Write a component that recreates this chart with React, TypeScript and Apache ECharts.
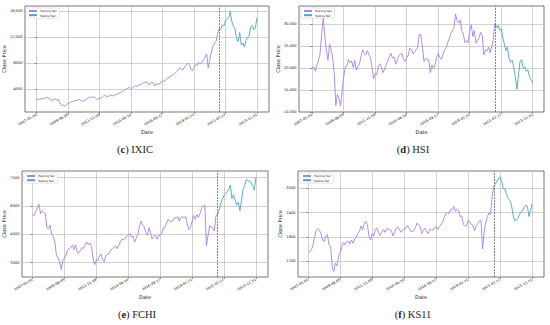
import React, { useEffect, useRef } from 'react';
import * as echarts from 'echarts';

// x axis: sample index (about 1.5 months per sample), ticks every 20 samples
const TICK_INDEX = [0, 20, 40, 60, 80, 100, 120, 140];
const TICK_LABELS = ['2007-01-01', '2009-08-05', '2011-11-09', '2014-04-14', '2016-09-17', '2019-02-21', '2021-07-27', '2023-12-31'];
const SPLIT_INDEX = 116;

const IXIC_TRAIN = [
  2430, 2480, 2420, 2530, 2610, 2560, 2720, 2750, 2640, 2350,
  2280, 2420, 2480, 2300, 2380, 1750, 1530, 1560, 1380, 1650,
  1780, 1880, 2050, 2090, 2200, 2260, 2270, 2450, 2250, 2160,
  2190, 2380, 2540, 2680, 2780, 2760, 2840, 2720, 2500, 2420,
  2650, 2600, 2870, 3060, 2950, 2850, 2960, 3110, 2980, 3000,
  3150, 3250, 3300, 3450, 3600, 3730, 3920, 4060, 4150, 4300,
  4080, 4250, 4440, 4520, 4400, 4700, 4650, 4900, 4980, 5050,
  5100, 4780, 4700, 5100, 5000, 4500, 4800, 4780, 4790, 5150,
  5280, 5200, 5400, 5600, 5850, 5950, 6100, 6300, 6450, 6700,
  6950, 7300, 7100, 7000, 7400, 7700, 8000, 7800, 7100, 6800,
  7400, 7800, 7650, 8150, 7900, 8050, 8500, 8950, 9400, 7300,
  8600, 9700, 10600, 11100, 11300, 12600, 13300,
];
const IXIC_TEST = [
  13300, 13200, 13900, 13700, 14500, 14800, 15000, 15900, 14400, 13600,
  13200, 11800, 11300, 12700, 10800, 11100, 10500, 11500, 12000, 12200,
  13600, 13800, 13100, 13500, 15000,
];
const IXIC_Y_TICKS = [4000, 8000, 12000, 16000];

const HSI_TRAIN = [
  20000, 20300, 19300, 20700, 21900, 23300, 28000, 31400, 27300, 24000,
  21800, 25500, 24300, 22300, 18800, 11500, 14000, 13100, 11400, 14900,
  18000, 20300, 20500, 22000, 21200, 21700, 20200, 21800, 19600, 20400,
  20900, 22700, 24200, 23300, 23000, 24000, 23100, 22300, 20200, 17600,
  18900, 18500, 20500, 21000, 20200, 19000, 19800, 20800, 21700, 22600,
  23400, 22300, 22600, 20900, 21800, 22900, 23200, 23300, 22000, 21500,
  22400, 23000, 24600, 24300, 23300, 23800, 24200, 24800, 27800, 27600,
  24900, 21500, 22200, 22000, 21900, 19000, 20700, 19900, 20800, 22400,
  23400, 22500, 22000, 23000, 24200, 24600, 25800, 26700, 27900, 28500,
  29200, 32400, 30900, 30300, 31000, 28500, 27800, 25800, 26300, 25800,
  28600, 29900, 27200, 28600, 25700, 26300, 27000, 28200, 27400, 23000,
  24200, 23900, 24800, 23600, 24900, 26500, 30200,
];
const HSI_TEST = [
  30200, 29200, 29800, 28700, 29000, 27000, 25600, 24000, 24800, 22200,
  21400, 21800, 20200, 18000, 15200, 18400, 21500, 22000, 20000, 20300,
  19300, 19600, 18000, 17300, 16600,
];
const HSI_Y_TICKS = [10000, 15000, 20000, 25000, 30000];

const FCHI_TRAIN = [
  5550, 5500, 5700, 5900, 6100, 5600, 5750, 5650, 5600, 4850,
  4800, 5000, 4500, 4400, 4100, 3400, 3250, 3050, 2650, 3100,
  3250, 3400, 3700, 3750, 3800, 3950, 3700, 3950, 3550, 3500,
  3650, 3800, 3750, 3950, 4100, 3950, 4050, 3850, 3200, 2900,
  3150, 3100, 3400, 3450, 3150, 3050, 3400, 3450, 3500, 3650,
  3750, 3800, 3900, 3750, 3900, 4100, 4250, 4200, 4300, 4400,
  4450, 4550, 4350, 4400, 4100, 4300, 4500, 4900, 5200, 5000,
  4900, 4600, 4450, 4850, 4600, 4250, 4400, 4450, 4250, 4450,
  4450, 4550, 4850, 4850, 5100, 5300, 5200, 5150, 5250, 5400,
  5350, 5450, 5200, 5400, 5450, 5350, 5450, 5050, 4750, 4850,
  5200, 5500, 5300, 5550, 5400, 5600, 5900, 6000, 6050, 3900,
  4450, 4950, 4900, 4850, 4700, 5500, 5550,
];
const FCHI_TEST = [
  5550, 5800, 6150, 6350, 6550, 6650, 6750, 6900, 7100, 6400,
  6600, 6300, 6050, 6200, 5750, 6300, 6900, 7100, 7400, 7350,
  7300, 7250, 7050, 6850, 7500,
];
const FCHI_Y_TICKS = [3000, 4500, 6000, 7500];

const KS11_TRAIN = [
  1420, 1430, 1480, 1600, 1800, 1950, 2010, 1960, 1880, 1720,
  1680, 1820, 1850, 1600, 1570, 1050, 940, 1150, 1080, 1330,
  1400, 1550, 1660, 1600, 1680, 1690, 1620, 1720, 1640, 1740,
  1790, 1880, 1930, 2070, 1970, 2120, 2180, 2100, 1800, 1720,
  1880, 1820, 1990, 2020, 1900, 1830, 1920, 1980, 1910, 2000,
  1990, 1970, 1950, 1820, 1900, 2010, 2040, 1970, 1910, 1960,
  1990, 2000, 2080, 2020, 1940, 1930, 1950, 2030, 2140, 2080,
  2050, 1880, 1960, 2010, 1930, 1880, 1990, 1970, 1960, 2030,
  2040, 1980, 2060, 2090, 2160, 2280, 2370, 2400, 2380, 2480,
  2470, 2550, 2430, 2480, 2440, 2300, 2320, 2100, 2060, 2080,
  2200, 2180, 2100, 2080, 1950, 2070, 2130, 2190, 2200, 1500,
  1930, 2150, 2300, 2390, 2350, 2800, 3050,
];
const KS11_TEST = [
  3050, 3100, 3180, 3240, 3280, 3150, 2990, 2980, 2850, 2750,
  2700, 2600, 2350, 2200, 2220, 2250, 2350, 2420, 2450, 2520,
  2580, 2560, 2300, 2450, 2620,
];
const KS11_Y_TICKS = [1200, 1800, 2400, 3000];

const TRAIN_COLOR = '#a982e2';
const TEST_COLOR = '#4fa6b6';

const PANELS = [
  { letter: 'c', name: 'IXIC', train: IXIC_TRAIN, test: IXIC_TEST, yTicks: IXIC_Y_TICKS, yMin: 500, yMax: 16770,
    grid: { left: 24, top: 6, width: 245, height: 106 }, xMin: -7.4, xMax: 147.6, cap: [135, 149] },
  { letter: 'd', name: 'HSI', train: HSI_TRAIN, test: HSI_TEST, yTicks: HSI_Y_TICKS, yMin: 10000, yMax: 34200,
    grid: { left: 299, top: 6, width: 245, height: 106 }, xMin: -8.4, xMax: 147.2, cap: [413, 149] },
  { letter: 'e', name: 'FCHI', train: FCHI_TRAIN, test: FCHI_TEST, yTicks: FCHI_Y_TICKS, yMin: 2245, yMax: 7855,
    grid: { left: 22, top: 171, width: 246, height: 106 }, xMin: -6.6, xMax: 147.6, cap: [137, 314] },
  { letter: 'f', name: 'KS11', train: KS11_TRAIN, test: KS11_TEST, yTicks: KS11_Y_TICKS, yMin: 805, yMax: 3427,
    grid: { left: 298, top: 171, width: 246, height: 106 }, xMin: -6.4, xMax: 147.4, cap: [413, 314] },
];

const FONT = 'DejaVu Sans';
const SERIF = 'Liberation Serif';

function fmtY(v: number) {
  return v >= 10000 ? v.toLocaleString('en-US') : String(v);
}

function buildOption() {
  const grids: any[] = [];
  const xAxes: any[] = [];
  const yAxes: any[] = [];
  const series: any[] = [];
  const legends: any[] = [];
  const graphics: any[] = [];
  PANELS.forEach((p, k) => {
    grids.push({ ...p.grid, show: true, borderColor: '#555', borderWidth: 0.8, backgroundColor: '#fff' });
    xAxes.push({
      type: 'value', gridIndex: k, min: p.xMin, max: p.xMax,
      name: 'Date', nameLocation: 'middle', nameGap: 17,
      nameTextStyle: { fontFamily: FONT, fontSize: 5, color: '#111' },
      axisLine: { show: false },
      axisTick: { show: true, length: 1.8, customValues: TICK_INDEX, lineStyle: { color: '#333', width: 0.5 } },
      axisLabel: {
        customValues: TICK_INDEX, rotate: 30, fontFamily: FONT, fontSize: 3.6, color: '#111', margin: 2.5,
        formatter: (v: number) => TICK_LABELS[TICK_INDEX.indexOf(Math.round(v))] ?? '',
      },
      splitLine: { show: true, lineStyle: { color: '#bdbdbd', width: 0.7 } },
    });
    yAxes.push({
      type: 'value', gridIndex: k, min: p.yMin, max: p.yMax,
      name: 'Close Price', nameLocation: 'middle', nameGap: 12,
      nameTextStyle: { fontFamily: FONT, fontSize: 5, color: '#111' },
      axisLine: { show: false },
      axisTick: { show: true, length: 1.8, customValues: p.yTicks, lineStyle: { color: '#333', width: 0.5 } },
      axisLabel: { customValues: p.yTicks, fontFamily: FONT, fontSize: 3.6, color: '#111', margin: 2.5, formatter: fmtY },
      splitLine: { show: true, lineStyle: { color: '#bdbdbd', width: 0.7 } },
    });
    series.push({
      name: 'Training Set', type: 'line', xAxisIndex: k, yAxisIndex: k,
      data: p.train.map((v, i) => [i, v]), symbol: 'none', showSymbol: false,
      lineStyle: { color: TRAIN_COLOR, width: 0.9 }, itemStyle: { color: TRAIN_COLOR },
      markLine: {
        silent: true, symbol: 'none', label: { show: false },
        lineStyle: { color: '#555', type: [2, 1], width: 0.7 },
        data: [{ xAxis: SPLIT_INDEX }],
      },
      z: 3,
    });
    series.push({
      name: 'Testing Set', type: 'line', xAxisIndex: k, yAxisIndex: k,
      data: p.test.map((v, j) => [SPLIT_INDEX + j, v]), symbol: 'none', showSymbol: false,
      lineStyle: { color: TEST_COLOR, width: 0.9 }, itemStyle: { color: TEST_COLOR },
      z: 3,
    });
    legends.push({
      left: p.grid.left + 2, top: p.grid.top + 2, orient: 'vertical',
      itemWidth: 8, itemHeight: 2, itemGap: 1.2,
      textStyle: { fontFamily: FONT, fontSize: 2.8, color: '#111', padding: [0, 0, 0, -2] },
      backgroundColor: '#fff', borderColor: '#ccc', borderWidth: 0.5, borderRadius: 1, padding: [1.5, 3, 1.5, 2],
      data: ['Training Set', 'Testing Set'],
    });
    graphics.push({
      type: 'text', x: p.cap[0], y: p.cap[1],
      style: {
        text: `{n|(}{b|${p.letter}}{n|) ${p.name}}`,
        align: 'center', verticalAlign: 'middle',
        fontWeight: 'normal',
        rich: {
          n: { fontFamily: SERIF, fontSize: 10.5, fontWeight: 'normal', fill: '#222', color: '#222' },
          b: { fontFamily: SERIF, fontSize: 10.5, fontWeight: 'bold', fill: '#222', color: '#222' },
        },
      },
    });
  });
  return {
    animation: false,
    backgroundColor: '#fff',
    grid: grids, xAxis: xAxes, yAxis: yAxes, series, legend: legends, graphic: graphics,
  };
}

export default function App() {
  const ref = useRef<HTMLDivElement>(null);
  useEffect(() => {
    const chart = echarts.init(ref.current!, null, { renderer: 'svg' });
    chart.setOption(buildOption() as any);
    return () => chart.dispose();
  }, []);
  return <div ref={ref} style={{ position: 'absolute', left: 0, top: 0, width: 550, height: 325, background: '#fff' }} />;
}
